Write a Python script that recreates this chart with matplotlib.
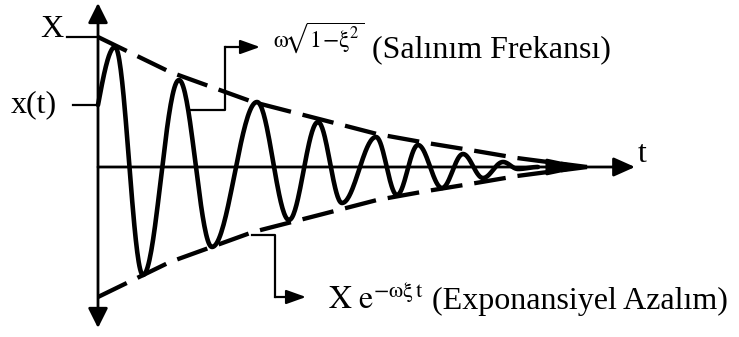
import numpy as np
import matplotlib.pyplot as plt
from matplotlib.patches import FancyArrowPatch

plt.rcParams['font.family'] = 'Liberation Serif'
plt.rcParams['mathtext.fontset'] = 'stix'
plt.rcParams['lines.scale_dashes'] = False

# turning points of the damped oscillation (time, displacement)
t_turn = [0, 17, 45, 81, 114, 159, 191, 220, 244, 278, 299, 320, 344, 365, 385, 405, 420, 440]
x_turn = [62, 120, -108, 87, -80, 65, -53, 45, -36, 30, -28, 22, -21, 13, -11, 5, -2, 0]

# decaying envelope X e^(-w xi t)
env_t = [0, 72, 155, 225, 279, 329, 372, 419, 442, 489]
env_x = [130, 95, 65, 47, 33, 24, 17, 9, 6, 0]

X_amp = env_x[0]
x_start = x_turn[0]

# smooth the curve between turning points
tt, xx = [], []
for i in range(len(t_turn) - 1):
    s = np.linspace(0, 1, 40)
    a, b = x_turn[i], x_turn[i + 1]
    if i == 0:
        w = np.sin(np.pi / 2 * s)
    else:
        w = (1 - np.cos(np.pi * s)) / 2
    tt.append(t_turn[i] + (t_turn[i + 1] - t_turn[i]) * s)
    xx.append(a + (b - a) * w)
tt = np.concatenate(tt)
xx = np.concatenate(xx)

fig = plt.figure(figsize=(7.39, 3.37), dpi=100)
ax = fig.add_axes([0, 0, 1, 1])
ax.set_xlim(-98, 641)
ax.set_ylim(-170, 167)
ax.axis('off')


def arrow(p0, p1, lw, hl, hw, style='-|>'):
    ax.add_patch(FancyArrowPatch(p0, p1, arrowstyle=f'{style},head_length={hl},head_width={hw}',
                                 mutation_scale=1, lw=lw, color='k', shrinkA=0, shrinkB=0))


# axes
arrow((0, -161), (0, 164), 2, 12, 6, style='<|-|>')
arrow((0, 0), (537, 0), 2, 13, 5.8)

# envelope
dash = (0, (23, 8.6))
ax.plot(env_t, env_x, color='k', lw=3.1, ls=dash, dash_capstyle='butt')
ax.plot(env_t, [-v for v in env_x], color='k', lw=3.1, ls=dash, dash_capstyle='butt')
arrow((env_t[-1] - 34, 0), (env_t[-1], 0), 2, 24, 5)

# response
ax.plot(tt, xx, color='k', lw=3.3, solid_joinstyle='round', solid_capstyle='round')

# level marks
ax.plot([-31, 0], [X_amp, X_amp], color='k', lw=1.6)
ax.plot([-25, 0], [x_start, x_start], color='k', lw=1.6)
ax.text(-35, X_amp, 'X', ha='right', va='baseline', fontsize=23)
ax.text(-41, x_start, 'x(t)', ha='right', va='center', fontsize=23)
ax.text(540, 5, 't', ha='left', va='baseline', fontsize=23)

# leaders
ax.plot([92, 127, 127], [57, 57, 120], color='k', lw=1.6)
arrow((127, 120), (162, 120), 1.6, 12, 4.3)
ax.plot([154, 177, 177], [-68, -68, -130], color='k', lw=1.6)
arrow((177, -130), (208, -130), 1.6, 12, 4.3)

ax.text(175, 120, r'$\mathrm{ω}\!\sqrt{\mathrm{1\!-\!ξ}^{2}}$', fontsize=17, va='baseline')
ax.text(274, 110, '(Salınım Frekansı)', fontsize=23, va='baseline')
ax.text(230, -142, r'$\mathrm{X\ e}^{\mathrm{-ωξ\,t}}$', fontsize=23, va='baseline')
ax.text(334, -142, '(Exponansiyel Azalım)', fontsize=23, va='baseline')

fig.savefig('out.png', dpi=100)
